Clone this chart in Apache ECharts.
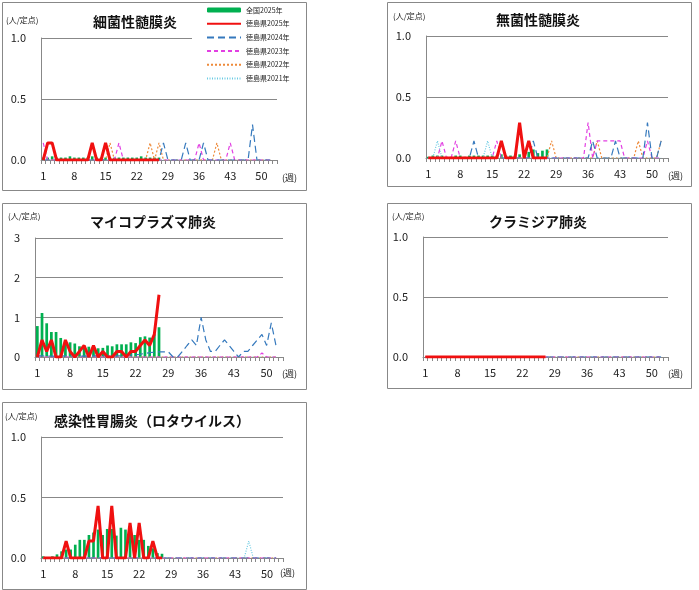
<!DOCTYPE html>
<html>
<head>
<meta charset="utf-8">
<title>定点当たり報告数</title>
<script src="https://cdn.jsdelivr.net/npm/echarts@6/dist/echarts.min.js"></script>
<style>
html,body{margin:0;padding:0;background:#fff;}
#main{width:699px;height:590px;}
</style>
</head>
<body>
<div id="main"></div>
<script>
/****************       データ         *****************/
// 週（カテゴリ）
var weeks = ['1','2','3','4','5','6','7','8','9','10','11','12','13','14','15','16','17','18','19','20',
    '21','22','23','24','25','26','27','28','29','30','31','32','33','34','35','36','37','38','39','40',
    '41','42','43','44','45','46','47','48','49','50','51','52','53'];

var names = ['全国2025年','徳島県2025年','徳島県2024年','徳島県2023年','徳島県2022年','徳島県2021年'];

// 細菌性髄膜炎
var bactZenkoku = [0.02,0.02,0.03,0.02,0.02,0.02,0.03,0.02,0.02,0.02,0.02,0.03,0.02,0.02,0.02,0.02,0.02,0.02,0.02,0.02,0.02,0.02,0.03,0.02,0.02,0.02,0.02];
var bact2025 = [0,0.14,0.14,0,0,0,0,0,0,0,0,0.14,0,0,0.14,0,0,0,0,0,0,0,0,0,0,0,0];
var bact2024 = [0,0,0,0,0,0,0,0,0,0, 0,0,0,0,0,0,0,0,0,0, 0,0,0,0,0,0,0,0.14,0,0, 0,0,0.14,0,0,0,0.14,0,0,0, 0,0,0,0,0,0,0,0.29,0,0, 0,0];
var bact2023 = [0.14,0,0,0,0,0,0,0,0,0, 0,0,0,0,0,0,0,0.14,0,0, 0,0,0,0,0,0,0,0,0,0, 0,0,0,0,0,0.14,0,0,0,0, 0,0,0.14,0,0,0,0,0,0,0, 0,0];
var bact2022 = [0,0,0,0,0,0,0,0,0,0, 0,0,0,0,0,0.14,0,0,0,0, 0,0,0,0,0.14,0,0.14,0,0,0, 0,0,0,0,0,0,0,0,0,0.14, 0,0,0,0,0,0,0,0,0,0, 0,0];
var bact2021 = [0,0,0,0,0,0,0,0,0,0, 0,0,0,0,0,0,0,0,0,0, 0,0,0,0,0,0,0,0,0,0, 0,0,0,0,0,0,0,0,0,0, 0,0,0,0,0,0,0,0,0,0, 0,0];

// 無菌性髄膜炎
var asepZenkoku = [0.01,0.02,0.02,0.02,0.01,0.01,0.02,0.02,0.01,0.02,0.02,0.02,0.02,0.02,0.02,0.02,0.03,0.02,0.02,0.02,0.03,0.02,0.05,0.07,0.04,0.06,0.07];
var asep2025 = [0,0,0,0,0,0,0,0,0,0,0,0,0,0,0,0,0.14,0,0,0,0.29,0,0.14,0,0,0,0];
var asep2024 = [0,0,0,0,0,0,0,0,0,0, 0.14,0,0,0,0,0,0,0,0,0, 0,0,0,0.14,0,0,0,0,0,0, 0,0,0,0,0,0,0.14,0,0,0, 0,0.14,0,0,0,0,0,0,0.29,0, 0,0.14];
var asep2023 = [0,0,0,0.14,0,0,0.14,0,0,0, 0,0,0,0,0,0.14,0,0,0,0, 0,0,0,0,0,0,0,0,0,0, 0,0,0,0,0,0.29,0,0.14,0.14,0.14, 0.14,0.14,0.14,0,0,0,0,0,0.14,0, 0,0];
var asep2022 = [0,0,0,0,0,0,0,0,0,0, 0,0,0,0,0,0,0,0,0,0, 0,0,0,0,0,0,0,0.14,0,0, 0,0,0,0,0,0,0,0.14,0,0, 0,0,0,0,0,0,0.14,0,0,0, 0,0.14];
var asep2021 = [0,0,0.14,0,0,0,0,0,0,0, 0,0,0,0.14,0,0,0,0,0,0, 0,0,0,0,0,0,0,0,0,0, 0,0,0,0,0,0,0,0,0,0, 0,0,0,0,0,0,0,0,0,0, 0,0];

// マイコプラズマ肺炎
var mycoZenkoku = [0.78,1.11,0.85,0.63,0.63,0.48,0.42,0.37,0.34,0.27,0.27,0.26,0.26,0.22,0.23,0.29,0.27,0.32,0.32,0.32,0.37,0.35,0.50,0.52,0.49,0.57,0.75];
var myco2025 = [0,0.43,0.14,0.43,0,0,0.43,0.14,0,0.14, 0.29,0,0.29,0,0.14,0,0,0.14,0.14,0, 0.14,0.14,0.29,0.43,0.29,0.57,1.57];
var myco2024 = [0.03,0.03,0.02,0.02,0.02,0.02,0.03,0.02,0.03,0.02, 0.03,0.02,0.03,0.03,0.03,0.02,0.03,0.03,0.03,0.05, 0.05,0.06,0.07,0.09,0.11,0.12,0.13,0.13,0.13,0, 0,0.14,0.29,0.43,0.29,1.0,0.43,0.14,0.14,0.29, 0.43,0.29,0.14,0,0.14,0.14,0.29,0.43,0.57,0.29, 0.86,0.29];
var myco2023 = [0,0,0,0,0,0,0,0,0,0, 0,0,0,0,0,0,0,0,0,0, 0,0,0,0,0,0,0,0,0,0, 0,0,0,0,0,0,0,0,0,0, 0,0,0,0,0,0,0,0,0.1,0, 0,0];
var myco2022 = [0,0,0,0,0,0,0,0,0,0, 0,0,0,0,0,0,0,0,0,0, 0,0,0,0,0,0,0,0,0,0, 0,0,0,0,0,0,0,0,0,0, 0,0,0,0,0,0,0,0,0,0, 0,0];
var myco2021 = [0,0,0,0,0,0,0,0,0,0, 0,0,0,0,0,0,0,0,0,0, 0,0,0,0,0,0,0,0,0,0, 0,0,0,0,0,0,0,0,0,0, 0,0,0,0,0,0,0,0,0,0, 0,0];

// クラミジア肺炎
var chlaZenkoku = [0,0,0,0,0,0,0,0,0,0,0,0,0,0,0,0,0,0,0,0,0,0,0,0,0,0,0];
var chla2025 = [0,0,0,0,0,0,0,0,0,0,0,0,0,0,0,0,0,0,0,0,0,0,0,0,0,0,0];
var chla2024 = [0,0,0,0,0,0,0,0,0,0, 0,0,0,0,0,0,0,0,0,0, 0,0,0,0,0,0,0,0,0,0, 0,0,0,0,0,0,0,0,0,0, 0,0,0,0,0,0,0,0,0,0, 0,0];
var chla2023 = [0,0,0,0,0,0,0,0,0,0, 0,0,0,0,0,0,0,0,0,0, 0,0,0,0,0,0,0,0,0,0, 0,0,0,0,0,0,0,0,0,0, 0,0,0,0,0,0,0,0,0,0, 0,0];
var chla2022 = [0,0,0,0,0,0,0,0,0,0, 0,0,0,0,0,0,0,0,0,0, 0,0,0,0,0,0,0,0,0,0, 0,0,0,0,0,0,0,0,0,0, 0,0,0,0,0,0,0,0,0,0, 0,0];
var chla2021 = [0,0,0,0,0,0,0,0,0,0, 0,0,0,0,0,0,0,0,0,0, 0,0,0,0,0,0,0,0,0,0, 0,0,0,0,0,0,0,0,0,0, 0,0,0,0,0,0,0,0,0,0, 0,0];

// 感染性胃腸炎（ロタウイルス）
var rotaZenkoku = [0.014,0.005,0.014,0.03,0.055,0.07,0.07,0.11,0.15,0.15,0.19,0.21,0.235,0.19,0.24,0.24,0.185,0.25,0.235,0.19,0.19,0.15,0.15,0.10,0.08,0.04,0.035];
var rota2025 = [0,0,0,0,0,0.14,0,0,0,0, 0.14,0.14,0.43,0,0,0.43,0,0,0,0.29, 0,0.29,0,0,0.14,0,0];
var rota2024 = [0,0,0,0,0,0,0,0,0,0, 0,0,0,0,0,0,0,0,0,0, 0,0,0,0,0,0,0,0,0,0, 0,0,0,0,0,0,0,0,0,0, 0,0,0,0,0,0,0,0,0,0, 0,0];
var rota2023 = [0,0,0,0,0,0,0,0,0,0, 0,0,0,0,0,0,0,0,0,0, 0,0,0,0,0,0,0,0,0,0, 0,0,0,0,0,0,0,0,0,0, 0,0,0,0,0,0,0,0,0,0, 0,0];
var rota2022 = [0,0,0,0,0,0,0,0,0,0, 0,0,0,0,0,0,0,0,0,0, 0,0,0,0,0,0,0,0,0,0, 0,0,0,0,0,0,0,0,0,0, 0,0,0,0,0,0,0,0,0,0, 0,0];
var rota2021 = [0,0,0,0,0,0,0,0,0,0, 0,0,0,0,0,0,0,0,0,0, 0,0,0,0,0,0,0,0,0,0, 0,0,0,0,0,0,0,0,0,0, 0,0,0,0,0,0.14,0,0,0,0, 0,0];

/****************       パネル設定         *****************/
var FONT = 'Noto Sans CJK JP';

var panels = [
    {title:'細菌性髄膜炎', box:[2,2,304,188], grid:[41,38,236,122], titlePos:[135,22], unitPos:[6,20], weekPos:[282,178],
        max:1, step:0.5, digits:1, data:[bactZenkoku,bact2025,bact2024,bact2023,bact2022,bact2021]},
    {title:'無菌性髄膜炎', box:[387,2,304,184], grid:[426,36,242,122], titlePos:[538,20], unitPos:[393,16], weekPos:[668,176],
        max:1, step:0.5, digits:1, data:[asepZenkoku,asep2025,asep2024,asep2023,asep2022,asep2021]},
    {title:'マイコプラズマ肺炎', box:[2,203,304,186], grid:[35,238,248,119], titlePos:[153,222], unitPos:[8,216], weekPos:[282,374],
        max:3, step:1, digits:0, data:[mycoZenkoku,myco2025,myco2024,myco2023,myco2022,myco2021]},
    {title:'クラミジア肺炎', box:[387,203,304,185], grid:[423,237,245,120], titlePos:[538,222], unitPos:[392,216], weekPos:[668,374],
        max:1, step:0.5, digits:1, data:[chlaZenkoku,chla2025,chla2024,chla2023,chla2022,chla2021]},
    {title:'感染性胃腸炎（ロタウイルス）', box:[2,402,304,187], grid:[41,437,242,121], titlePos:[152,421], unitPos:[5,416], weekPos:[280,573],
        max:1, step:0.5, digits:1, data:[rotaZenkoku,rota2025,rota2024,rota2023,rota2022,rota2021]}
];

// 過去年の線種
var pastStyle = [
    {color:'#3579BD', type:[7,4], width:1.2},   // 2024
    {color:'#E23FE2', type:[4,3], width:1.2},   // 2023
    {color:'#EE8A3A', type:[2,2], width:1.2},   // 2022
    {color:'#6CCBE3', type:[1,1.5], width:1.2}  // 2021
];

var grids = [], xAxes = [], yAxes = [], series = [], graphics = [];

panels.forEach(function(p, i){
    grids.push({left:p.grid[0], top:p.grid[1], width:p.grid[2], height:p.grid[3], containLabel:false});

    xAxes.push({
        type:'category', gridIndex:i, data:weeks, boundaryGap:true,
        axisLine:{lineStyle:{color:'#888'}},
        axisTick:{show:true, interval:0, length:4, lineStyle:{color:'#888'}},
        axisLabel:{interval:6, margin:10, fontSize:11, color:'#222', fontFamily:FONT},
        splitLine:{show:false}
    });

    yAxes.push({
        type:'value', gridIndex:i, min:0, max:p.max, interval:p.step,
        axisLine:{show:true, lineStyle:{color:'#888'}},
        axisTick:{show:false},
        axisLabel:{margin:15, fontSize:11, color:'#222', fontFamily:FONT,
            formatter:function(v){ return v.toFixed(p.digits); }},
        splitLine:{lineStyle:{color:'#888'}}
    });

    // 全国（棒）
    series.push({
        name:names[0], type:'bar', xAxisIndex:i, yAxisIndex:i,
        data:p.data[0], barWidth:'58%', itemStyle:{color:'#00B050'}, z:2
    });

    // 過去年（2021→2024の順で重ねる）
    for (var k = 5; k >= 2; k--) {
        var st = pastStyle[k-2];
        series.push({
            name:names[k], type:'line', xAxisIndex:i, yAxisIndex:i,
            data:p.data[k], symbol:'none', z:3,
            itemStyle:{color:st.color},
            lineStyle:{color:st.color, type:st.type, width:st.width}
        });
    }

    // 県2025年（赤線）
    series.push({
        name:names[1], type:'line', xAxisIndex:i, yAxisIndex:i,
        data:p.data[1], symbol:'none', z:5,
        itemStyle:{color:'#F01010'},
        lineStyle:{color:'#F01010', width:3}
    });

    // 枠・タイトル・単位
    graphics.push({type:'rect', shape:{x:p.box[0]+0.5, y:p.box[1]+0.5, width:p.box[2], height:p.box[3]},
        style:{fill:null, stroke:'#888', lineWidth:1}, silent:true});
    graphics.push({type:'text', x:p.titlePos[0], y:p.titlePos[1],
        style:{text:p.title, font:'bold 14px "' + FONT + '"', fill:'#111', textAlign:'center', textVerticalAlign:'middle'}});
    graphics.push({type:'text', x:p.unitPos[0], y:p.unitPos[1],
        style:{text:'(人/定点)', font:'8px "' + FONT + '"', fill:'#222', textAlign:'left', textVerticalAlign:'middle'}});
    graphics.push({type:'text', x:p.weekPos[0], y:p.weekPos[1],
        style:{text:'(週)', font:'9px "' + FONT + '"', fill:'#222', textAlign:'left', textVerticalAlign:'middle'}});
});

// 凡例（線の記号は非表示）
var legendData = names.map(function(n, idx){
    return idx === 0 ? {name:n} : {name:n, itemStyle:{opacity:0}};
});

/****************       描画         *****************/
var myChart = echarts.init(document.getElementById('main'));

myChart.setOption({
    animation:false,
    grid:grids,
    xAxis:xAxes,
    yAxis:yAxes,
    legend:{
        data:legendData, orient:'vertical', left:192, top:3,
        padding:[3,6,4,14], backgroundColor:'#fff',
        itemWidth:34, itemHeight:5, itemGap:5.7,
        selectedMode:false,
        textStyle:{fontSize:7, lineHeight:8, color:'#222', fontFamily:FONT}
    },
    series:series,
    graphic:graphics
});
</script>
</body>
</html>
